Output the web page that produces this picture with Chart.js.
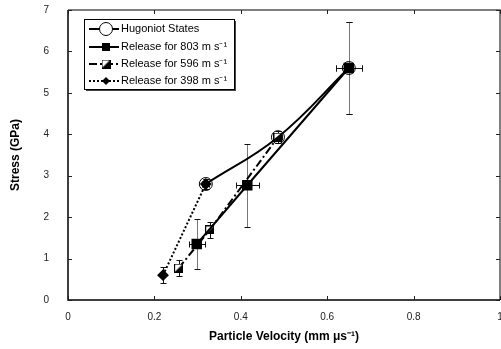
<!DOCTYPE html>
<html>
<head>
<meta charset="utf-8">
<script src="https://cdn.jsdelivr.net/npm/chart.js@4.4.0/dist/chart.umd.min.js"></script>
<style>
  html, body { margin: 0; padding: 0; background: #fff; overflow: hidden; }
  #wrap { width: 508px; height: 349px; }
</style>
</head>
<body>
<div id="wrap"><canvas id="grafico"></canvas></div>
<script>
// Hugoniot states
const hugU = [0.319, 0.486, 0.650];
const hugS = [2.80, 3.93, 5.60];
const hugUErr = [0.008, 0.010, 0.030];
const hugSErr = [0.12, 0.15, 1.10];

// release paths
const rel803U = [0.298, 0.415, 0.650];
const rel803S = [1.35, 2.77, 5.60];
const rel803UErr = [0.019, 0.027, 0.030];
const rel803SErr = [0.60, 1.00, 1.10];

const rel596U = [0.256, 0.328, 0.486];
const rel596S = [0.77, 1.69, 3.93];
const rel596UErr = [0, 0, 0];
const rel596SErr = [0.19, 0.20, 0.15];

const rel398U = [0.220, 0.319];
const rel398S = [0.60, 2.80];
const rel398UErr = [0, 0];
const rel398SErr = [0.20, 0.12];

const xTicks = [0, 0.2, 0.4, 0.6, 0.8, 1];
const yTicks = [0, 1, 2, 3, 4, 5, 6, 7];

const FONT = "'Liberation Sans', Arial, sans-serif";

function pts(u, s) {
    return u.map((v, i) => ({ x: v, y: s[i] }));
}

// half filled square marker
function halfSquare() {
    const c = document.createElement("canvas");
    c.width = 9; c.height = 9;
    const g = c.getContext("2d");
    g.fillStyle = "#fff";
    g.fillRect(0, 0, 9, 9);
    g.fillStyle = "#000";
    g.beginPath();
    g.moveTo(9, 0); g.lineTo(9, 9); g.lineTo(0, 9); g.closePath();
    g.fill();
    g.strokeStyle = "#000";
    g.lineWidth = 1;
    g.strokeRect(0.5, 0.5, 8, 8);
    return c;
}
const halfSq = halfSquare();

const errores = [
    [hugUErr, hugSErr],
    [rel803UErr, rel803SErr],
    [rel596UErr, rel596SErr],
    [rel398UErr, rel398SErr],
];

const errorBars = {
    id: "errorBars",
    beforeDatasetsDraw(chart) {
        const { ctx, scales: { x, y } } = chart;
        ctx.save();
        ctx.lineWidth = 1;
        chart.data.datasets.forEach((ds, di) => {
            const [eu, es] = errores[di];
            ds.data.forEach((p, i) => {
                const px = Math.round(x.getPixelForValue(p.x));
                const py = Math.round(y.getPixelForValue(p.y));
                ctx.strokeStyle = es[i] > 0.5 ? "#777" : "#111";
                if (es[i] > 0) {
                    const t = Math.round(y.getPixelForValue(p.y + es[i]));
                    const b = Math.round(y.getPixelForValue(p.y - es[i]));
                    ctx.beginPath();
                    ctx.moveTo(px + 0.5, t); ctx.lineTo(px + 0.5, b);
                    ctx.stroke();
                    ctx.strokeStyle = "#111";
                    ctx.beginPath();
                    ctx.moveTo(px - 2.5, t + 0.5); ctx.lineTo(px + 3.5, t + 0.5);
                    ctx.moveTo(px - 2.5, b + 0.5); ctx.lineTo(px + 3.5, b + 0.5);
                    ctx.stroke();
                }
                if (eu[i] > 0) {
                    const l = Math.round(x.getPixelForValue(p.x - eu[i]));
                    const r = Math.round(x.getPixelForValue(p.x + eu[i]));
                    ctx.strokeStyle = "#111";
                    ctx.beginPath();
                    ctx.moveTo(l, py + 0.5); ctx.lineTo(r, py + 0.5);
                    ctx.moveTo(l + 0.5, py - 2.5); ctx.lineTo(l + 0.5, py + 3.5);
                    ctx.moveTo(r + 0.5, py - 2.5); ctx.lineTo(r + 0.5, py + 3.5);
                    ctx.stroke();
                }
            });
        });
        ctx.restore();
    },
};

const marco = {
    id: "marco",
    afterDraw(chart) {
        const { ctx, chartArea: a, scales: { x, y } } = chart;
        ctx.save();
        ctx.strokeStyle = "#555";
        ctx.lineWidth = 1.5;
        ctx.beginPath();
        ctx.moveTo(a.left, a.top); ctx.lineTo(a.right, a.top); ctx.lineTo(a.right, a.bottom);
        ctx.stroke();
        ctx.strokeStyle = "#000";
        ctx.beginPath();
        ctx.moveTo(a.left, a.top); ctx.lineTo(a.left, a.bottom); ctx.lineTo(a.right, a.bottom);
        ctx.stroke();
        ctx.lineWidth = 1;
        ctx.strokeStyle = "#222";
        ctx.beginPath();
        xTicks.forEach((v) => {
            const px = Math.round(x.getPixelForValue(v)) + 0.5;
            ctx.moveTo(px, a.bottom); ctx.lineTo(px, a.bottom - 4);
            ctx.moveTo(px, a.top); ctx.lineTo(px, a.top + 4);
        });
        yTicks.forEach((v) => {
            const py = Math.round(y.getPixelForValue(v)) + 0.5;
            ctx.moveTo(a.left, py); ctx.lineTo(a.left + 4, py);
            ctx.moveTo(a.right, py); ctx.lineTo(a.right - 4, py);
        });
        ctx.stroke();
        ctx.restore();
    },
};

const leyenda = {
    id: "leyenda",
    afterDraw(chart) {
        const ctx = chart.ctx;
        const bx = 84, by = 19, bw = 150, bh = 70;
        ctx.save();
        ctx.fillStyle = "#444";
        ctx.fillRect(bx + 2, by + 2, bw, bh);
        ctx.fillStyle = "#fff";
        ctx.fillRect(bx, by, bw, bh);
        ctx.strokeStyle = "#000";
        ctx.lineWidth = 1;
        ctx.strokeRect(bx + 0.5, by + 0.5, bw, bh);
        const filas = [29, 47, 64, 81];
        ctx.font = "11px " + FONT;
        ctx.textBaseline = "middle";
        chart.data.datasets.forEach((ds, i) => {
            const yy = filas[i];
            ctx.strokeStyle = "#000";
            ctx.lineWidth = 2;
            ctx.setLineDash(ds.borderDash || []);
            ctx.beginPath();
            ctx.moveTo(89, yy); ctx.lineTo(119, yy);
            ctx.stroke();
            ctx.setLineDash([]);
            const cx = 106;
            ctx.lineWidth = 1;
            if (ds.pointStyle === "circle") {
                ctx.fillStyle = "#fff";
                ctx.beginPath(); ctx.arc(cx, yy, 6.5, 0, Math.PI * 2); ctx.fill(); ctx.stroke();
            } else if (ds.pointStyle === "rect") {
                ctx.fillStyle = "#000";
                ctx.fillRect(cx - 4, yy - 4, 8, 8);
            } else if (ds.pointStyle === "rectRot") {
                ctx.fillStyle = "#000";
                ctx.beginPath();
                ctx.moveTo(cx, yy - 4); ctx.lineTo(cx + 4, yy); ctx.lineTo(cx, yy + 4); ctx.lineTo(cx - 4, yy);
                ctx.closePath(); ctx.fill();
            } else {
                ctx.drawImage(halfSq, cx - 4.5, yy - 4.5);
            }
            ctx.fillStyle = "#000";
            ctx.fillText(ds.label, 121, yy);
        });
        ctx.restore();
    },
};

const ctx = document.getElementById("grafico").getContext("2d");
new Chart(ctx, {
    type: "scatter",
    data: {
        datasets: [
            {
                label: "Hugoniot States",
                data: pts(hugU, hugS),
                showLine: true,
                borderColor: "#000",
                borderWidth: 2,
                tension: 0.4,
                pointStyle: "circle",
                pointRadius: 6.5,
                pointBorderWidth: 1,
                pointBackgroundColor: "rgba(0,0,0,0)",
                pointBorderColor: "#000",
            },
            {
                label: "Release for 803 m s\u207B\u00B9",
                data: pts(rel803U, rel803S),
                showLine: true,
                borderColor: "#000",
                borderWidth: 2,
                pointStyle: "rect",
                pointRadius: 6,
                pointBackgroundColor: "#000",
                pointBorderColor: "#000",
            },
            {
                label: "Release for 596 m s\u207B\u00B9",
                data: pts(rel596U, rel596S),
                showLine: true,
                borderColor: "#000",
                borderWidth: 2,
                borderDash: [8, 3, 2, 3],
                pointStyle: halfSq,
            },
            {
                label: "Release for 398 m s\u207B\u00B9",
                data: pts(rel398U, rel398S),
                showLine: true,
                borderColor: "#000",
                borderWidth: 2,
                borderDash: [2, 2],
                pointStyle: "rectRot",
                pointRadius: 4.5,
                pointBackgroundColor: "#000",
                pointBorderColor: "#000",
            },
        ],
    },
    options: {
        responsive: true,
        maintainAspectRatio: false,
        animation: false,
        layout: { padding: { top: 10, right: 1, left: 0, bottom: 0 } },
        plugins: {
            legend: { display: false },
            tooltip: { enabled: false },
        },
        scales: {
            x: {
                type: "linear",
                min: 0,
                max: 1,
                afterFit(s) { s.height = 49; s.paddingLeft = 0; s.paddingRight = 0; },
                afterBuildTicks(s) { s.ticks = xTicks.map((v) => ({ value: v })); },
                grid: { display: false, drawTicks: false },
                border: { display: false },
                ticks: {
                    padding: 11,
                    color: "#222",
                    font: { family: FONT, size: 10 },
                    callback: (v) => String(v),
                },
                title: {
                    display: true,
                    text: "Particle Velocity (mm \u03BCs\u207B\u00B9)",
                    color: "#000",
                    font: { family: FONT, size: 12, weight: "bold" },
                    padding: { top: 0, bottom: 5 },
                },
            },
            y: {
                type: "linear",
                min: 0,
                max: 7,
                afterFit(s) { s.width = 68; s.paddingTop = 0; s.paddingBottom = 0; },
                afterBuildTicks(s) { s.ticks = yTicks.map((v) => ({ value: v })); },
                grid: { display: false, drawTicks: false },
                border: { display: false },
                ticks: {
                    padding: 19,
                    color: "#222",
                    font: { family: FONT, size: 10 },
                },
                title: {
                    display: true,
                    text: "Stress (GPa)",
                    color: "#000",
                    font: { family: FONT, size: 12, weight: "bold" },
                    padding: { top: 8, bottom: 0 },
                },
            },
        },
    },
    plugins: [errorBars, marco, leyenda],
});
</script>
</body>
</html>
